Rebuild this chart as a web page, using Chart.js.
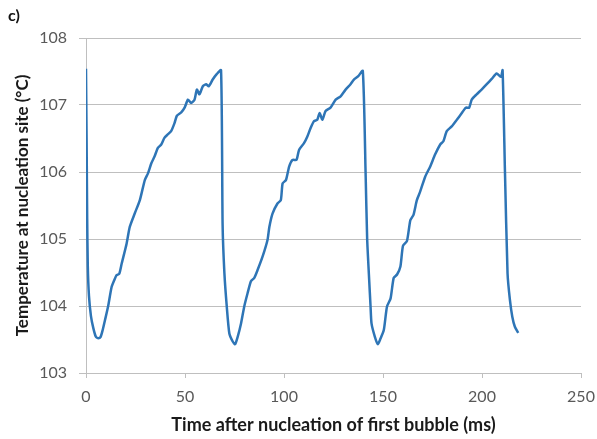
<!DOCTYPE html>
<html>
<head>
<meta charset="utf-8">
<script src="https://cdn.jsdelivr.net/npm/chart.js@4"></script>
<style>
  body { margin: 0; background: #fff; }
  #wrap { position: relative; width: 597px; height: 439px; }
  #panel { position: absolute; left: 8px; top: 5px; font: bold 16px Lato, sans-serif; color: #111; }
</style>
</head>
<body>
<div id="wrap">
  <canvas id="chart" width="597" height="439"></canvas>
  <div id="panel">c)</div>
</div>
<script>
// Time (ms) and temperature (°C)
var timeMs = [
    0, 0.3, 0.6, 0.9, 1.5, 2.5, 3.7, 5.0, 6.2, 7.4, 8.5, 9.6, 11.2, 12.9, 14.2, 15.4, 16.8, 18.0,
    20.5, 22.1, 24.6, 27.2, 29.7, 31.3, 33.0, 34.6, 36.3, 38.0, 39.6, 41.3, 43.0, 44.7, 45.9,
    48.1, 49.8, 51.5, 53.1, 54.8, 56.0, 57.3, 59.0, 60.7, 62.0, 64.0, 66.0, 68.2,
    69.0, 69.9, 71.1, 72.4, 74.1, 75.3, 76.6, 78.3, 79.9, 81.6, 83.3, 85.0, 86.7, 89.2, 91.7,
    92.6, 94.2, 96.7, 98.4, 99.3, 101.0, 102.6, 104.3, 106.3, 107.6, 110.1, 111.8, 113.5, 115.2,
    116.8, 118.0, 119.4, 121.0, 123.5, 126.1, 128.6, 131.1, 133.6, 135.3, 137.5, 139.8,
    141.2, 142.0, 143.0, 143.7, 144.2, 145.9, 147.4, 148.7, 150.4, 152.0, 153.8, 155.4, 157.1,
    158.8, 160.1, 162.1, 163.8, 165.4, 167.1, 168.8, 171.3, 173.8, 176.3, 178.9, 180.5, 182.2,
    184.7, 187.3, 189.8, 191.8, 193.5, 194.8, 197.3, 199.8, 202.4, 204.9, 207.4, 209.6, 210.4,
    211.6, 212.9, 214.1, 215.3, 216.6, 218.3
];
var tempC = [
    107.54, 106.5, 105.3, 104.6, 104.15, 103.85, 103.67, 103.54, 103.52, 103.54, 103.65, 103.79, 104.0, 104.28, 104.38, 104.46, 104.48, 104.63,
    104.93, 105.18, 105.38, 105.58, 105.88, 105.98, 106.13, 106.23, 106.36, 106.41, 106.51, 106.56, 106.61, 106.73, 106.84,
    106.89, 106.96, 107.08, 107.03, 107.08, 107.23, 107.16, 107.28, 107.31, 107.28, 107.38, 107.46, 107.52,
    105.2, 104.49, 103.99, 103.59, 103.47, 103.43, 103.54, 103.74, 103.99, 104.19, 104.37, 104.42, 104.54, 104.74, 104.99,
    105.18, 105.38, 105.53, 105.58, 105.83, 105.88, 106.08, 106.18, 106.18, 106.33, 106.43, 106.53, 106.66, 106.76,
    106.78, 106.88, 106.78, 106.91, 106.96, 107.08, 107.13, 107.23, 107.31, 107.38, 107.43, 107.51,
    106.0, 105.0, 104.4, 104.0, 103.74, 103.54, 103.43, 103.51, 103.64, 103.99, 104.11, 104.42, 104.47,
    104.59, 104.9, 104.97, 105.28, 105.36, 105.58, 105.71, 105.93, 106.08, 106.26, 106.41, 106.46, 106.61,
    106.68, 106.78, 106.88, 106.96, 106.96, 107.08, 107.16, 107.23, 107.31, 107.39, 107.47, 107.42, 107.52,
    106.0, 104.49, 104.09, 103.84, 103.69, 103.6
];

// Axis ranges and tick steps
var xMin = 0, xMax = 250, xStep = 50;
var yMin = 103, yMax = 108, yStep = 1;

var points = timeMs.map(function (t, i) {
    return { x: t, y: tempC[i] };
});

var gridGray = '#bfbfbf';
var tickFont = { family: 'Lato, sans-serif', size: 16 };

var ctx = document.getElementById('chart').getContext('2d');
new Chart(ctx, {
    type: 'line',
    data: {
        datasets: [{
            data: points,
            borderColor: '#2e75b6',
            borderWidth: 2.5,
            pointRadius: 0,
            fill: false,
            tension: 0.2
        }]
    },
    options: {
        responsive: false,
        animation: false,
        layout: { padding: { top: 38, right: 16, left: 0, bottom: 0 } },
        plugins: {
            legend: { display: false },
            tooltip: { enabled: false }
        },
        scales: {
            x: {
                type: 'linear',
                min: xMin,
                max: xMax,
                ticks: { stepSize: xStep, font: tickFont, color: '#595959', padding: 9 },
                grid: { drawOnChartArea: false, color: gridGray, tickLength: 5 },
                border: { color: gridGray },
                title: {
                    display: true,
                    text: 'Time after nucleation of first bubble (ms)',
                    font: { family: 'Lato, sans-serif', size: 18, weight: 'bold' },
                    color: '#1a1a1a',
                    padding: { top: 0, bottom: 3 }
                },
                afterFit: function (scale) {
                    scale.height = 66;
                    scale.paddingRight = 0; // let layout padding decide the right edge
                }
            },
            y: {
                min: yMin,
                max: yMax,
                ticks: { stepSize: yStep, font: tickFont, color: '#595959', padding: 12 },
                grid: { color: gridGray, tickLength: 7 },
                border: { color: gridGray },
                title: {
                    display: true,
                    text: 'Temperature at nucleation site (°C)',
                    font: { family: 'Lato, sans-serif', size: 17, weight: 'bold' },
                    color: '#1a1a1a',
                    padding: { top: 12, bottom: 0 }
                },
                afterFit: function (scale) { scale.width = 86; }
            }
        }
    }
});
</script>
</body>
</html>
